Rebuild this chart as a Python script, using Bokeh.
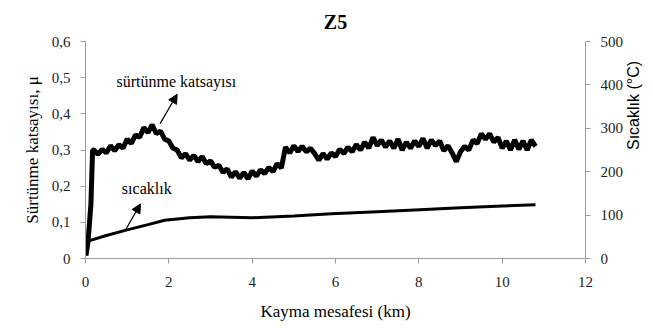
import math
from bokeh.plotting import figure
from bokeh.models import Range1d, LinearAxis, FixedTicker, Label, Arrow, NormalHead
from bokeh.embed import file_html
from bokeh.resources import INLINE

# ---- data ----
mu_start_km = [0.01, 0.06, 0.13, 0.17]
mu_start_val = [0.008, 0.045, 0.15, 0.30]

mu_km = [round(0.2 + 0.1 * i, 1) for i in range(107)]
mu_val = [
    0.300, 0.288, 0.302, 0.292, 0.312, 0.298, 0.315, 0.305, 0.330, 0.318,
    0.342, 0.335, 0.362, 0.348, 0.370, 0.345, 0.352, 0.330, 0.325, 0.305,
    0.300, 0.278, 0.290, 0.272, 0.285, 0.268, 0.282, 0.262, 0.270, 0.252,
    0.258, 0.238, 0.248, 0.225, 0.240, 0.222, 0.238, 0.220, 0.242, 0.228,
    0.245, 0.235, 0.252, 0.240, 0.262, 0.250, 0.308, 0.292, 0.312, 0.296,
    0.310, 0.295, 0.305, 0.290, 0.272, 0.290, 0.275, 0.292, 0.282, 0.302,
    0.290, 0.308, 0.295, 0.315, 0.300, 0.322, 0.305, 0.335, 0.312, 0.328,
    0.308, 0.325, 0.305, 0.330, 0.300, 0.322, 0.305, 0.325, 0.310, 0.332,
    0.305, 0.328, 0.312, 0.325, 0.298, 0.312, 0.292, 0.268, 0.295, 0.310,
    0.300, 0.328, 0.318, 0.345, 0.330, 0.345, 0.322, 0.335, 0.305, 0.325,
    0.300, 0.328, 0.302, 0.325, 0.300, 0.328, 0.310,
]

temp_km = [0.06, 0.5, 1.0, 1.5, 1.9, 2.5, 3.0, 4.0, 5.0, 5.9, 7.0, 7.9, 9.0, 10.0, 10.8]
temp_val = [40, 53, 66, 78, 88, 94, 96, 94, 98, 103, 108, 112, 117, 121, 124]

x_ticks = [0, 2, 4, 6, 8, 10, 12]
mu_ticks = [0, 0.1, 0.2, 0.3, 0.4, 0.5, 0.6]
mu_tick_labels = ["0", "0,1", "0,2", "0,3", "0,4", "0,5", "0,6"]
temp_ticks = [0, 100, 200, 300, 400, 500]

title_text = "Z5"
x_title = "Kayma mesafesi (km)"
mu_title = "Sürtünme katsayısı, μ"
temp_title = "Sıcaklık (°C)"
mu_note = "sürtünme katsayısı"
temp_note = "sıcaklık"

# ---- figure ----
SERIF = "Liberation Serif"
SANS = "Liberation Sans"
AX = "#9a9a9a"

p = figure(width=653, height=328, output_backend="svg", toolbar_location=None,
           x_range=Range1d(0, 12), y_range=Range1d(0, 0.6), title=title_text,
           min_border_left=85, min_border_right=66, min_border_top=41,
           min_border_bottom=70)
p.extra_y_ranges = {"temp": Range1d(0, 500)}
p.outline_line_color = None
p.xgrid.visible = False
p.ygrid.visible = False
p.background_fill_color = "white"
p.border_fill_color = "white"

p.title.align = "center"
p.title.text_font = SERIF
p.title.text_font_size = "20px"
p.title.text_font_style = "bold"
p.title.text_color = "black"
p.title.standoff = 17
p.title.offset = 6

right = LinearAxis(y_range_name="temp")
p.add_layout(right, "right")

for ax in [p.xaxis[0], p.yaxis[0], right]:
    ax.axis_line_color = AX
    ax.major_tick_line_color = AX
    ax.minor_tick_line_color = None
    ax.major_tick_out = 5
    ax.major_tick_in = 0
    ax.major_label_text_font = SERIF
    ax.major_label_text_font_size = "15px"
    ax.major_label_text_color = "#222222"
    ax.major_label_standoff = 10
    ax.axis_label_text_font = SERIF
    ax.axis_label_text_font_size = "17px"
    ax.axis_label_text_font_style = "normal"
    ax.axis_label_text_color = "black"

p.xaxis[0].ticker = FixedTicker(ticks=x_ticks)
p.xaxis[0].axis_label = x_title
p.xaxis[0].major_label_standoff = 13
p.xaxis[0].axis_label_standoff = 12
p.yaxis[0].ticker = FixedTicker(ticks=mu_ticks)
p.yaxis[0].major_label_overrides = {t: l for t, l in zip(mu_ticks, mu_tick_labels)}
p.yaxis[0].axis_label = mu_title
p.yaxis[0].axis_label_standoff = 7
right.ticker = FixedTicker(ticks=temp_ticks)
right.axis_label = temp_title
right.axis_label_text_font = SANS
right.axis_label_text_font_size = "16px"
right.axis_label_standoff = 7
if "axis_label_orientation" in right.properties():
    right.axis_label_orientation = math.pi / 2

# lines
p.line(mu_start_km + mu_km, mu_start_val + mu_val, line_color="black", line_width=5)
p.line(temp_km, temp_val, line_color="black", line_width=3, y_range_name="temp")

# arrows
p.add_layout(Arrow(x_start=1.79, y_start=0.373, x_end=2.2, y_end=0.454,
                   line_color="black", line_width=1.2,
                   end=NormalHead(size=9, fill_color="black", line_color="black")))
p.add_layout(Arrow(x_start=0.96, y_start=0.079, x_end=1.32, y_end=0.151,
                   line_color="black", line_width=1.2,
                   end=NormalHead(size=9, fill_color="black", line_color="black")))

def lab(x, y, text, size="16px"):
    p.add_layout(Label(x=x, y=y, text=text, text_font=SERIF, text_font_size=size,
                       text_align="center", text_baseline="middle",
                       text_color="black"))

lab(2.18, 0.49, mu_note)
lab(1.47, 0.193, temp_note)

open("out.html", "w").write(file_html(p, INLINE))
